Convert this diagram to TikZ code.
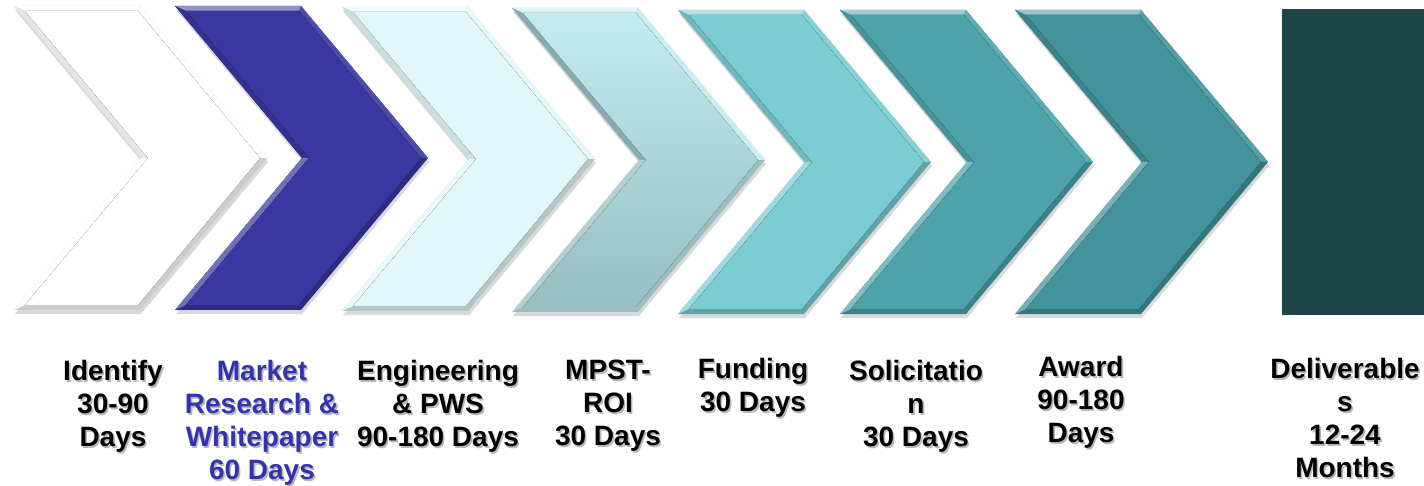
\documentclass[tikz,border=0pt]{standalone}
\usepackage{fontspec}
\setmainfont{Liberation Sans}
\definecolor{stepA}{HTML}{FFFFFF}
\definecolor{stepB}{HTML}{3838A0}
\definecolor{stepC}{HTML}{E2F7F9}
\definecolor{stepDtop}{HTML}{C2ECF0}
\definecolor{stepDbot}{HTML}{96BEC2}
\definecolor{stepE}{HTML}{7ACBD2}
\definecolor{stepF}{HTML}{4EA3AB}
\definecolor{stepG}{HTML}{42939B}
\definecolor{stepH}{HTML}{1D4447}
\definecolor{mrblue}{HTML}{3333B0}
\tikzset{
  lbl/.style={font=\bfseries\fontsize{14}{16.5}\selectfont, align=center, anchor=north, inner sep=0pt},
  lblshadow/.style={lbl, text=black!28},
}

\begin{document}
\begin{tikzpicture}[x=0.5pt, y=-0.5pt]
\useasboundingbox (0,0) rectangle (1424,486);
% chevrons: name / left x / top y / top colour / bottom colour
\foreach \n/\x/\t/\ct/\cb in {idf/14/6/stepA/stepA, mkt/175/6/stepB/stepB, eng/342/7/stepC/stepC,
    roi/512/8/stepDtop/stepDbot, fund/678/10/stepE/stepE, sol/840/10/stepF/stepF, awd/1015/10/stepG/stepG}{
  \fill[black, opacity=.15] (\x+1,\t+4) -- ++(126,0) -- ++(127,152) -- ++(-127,152) -- ++(-126,0) -- ++(127,-152) -- cycle;
  \fill[\ct!80!black] (\x,\t) -- ++(126,0) -- ++(127,152) -- ++(-127,152) -- ++(-126,0) -- ++(127,-152) -- cycle;
  \fill[\ct!55!white] (\x,\t) -- (\x+126,\t) -- (\x+124,\t+5) -- (\x+11,\t+5) -- cycle;
  \fill[\ct!90!white] (\x+126,\t) -- (\x+253,\t+152) -- (\x+246,\t+152) -- (\x+124,\t+5) -- cycle;
  \fill[\cb!90!black] (\x,\t) -- (\x+127,\t+152) -- (\x+134,\t+152) -- (\x+11,\t+5) -- cycle;
  \fill[\cb!72!white] (\x,\t+304) -- (\x+127,\t+152) -- (\x+134,\t+152) -- (\x+11,\t+299) -- cycle;
  \fill[top color=\ct, bottom color=\cb] (\x+11,\t+5) -- (\x+124,\t+5) -- (\x+246,\t+152) -- (\x+124,\t+299)
    -- (\x+11,\t+299) -- (\x+134,\t+152) -- cycle;
}
\fill[stepH] (1282,9) rectangle (1424,315);
% labels
\foreach \n/\x/\y/\c/\txt in {idf/113/360/black/{Identify\\30-90\\Days},
    mkt/262/360/mrblue/{Market\\Research \&\\Whitepaper\\60 Days},
    eng/438/360/black/{Engineering\\\& PWS\\90-180 Days},
    roi/608/360/black/{MPST-\\ROI\\30 Days},
    fund/753/358/black/{Funding\\30 Days},
    sol/916/360/black/{Solicitatio\\n\\30 Days},
    awd/1081/356/black/{Award\\90-180\\Days},
    dlv/1345/358/black/{Deliverable\\s\\12-24\\Months}}{
  \node[lblshadow] at (\x+1.6,\y+1.6) {\txt};
  \node[lbl, text=\c] (\n-lbl) at (\x,\y) {\txt};
}
\end{tikzpicture}
\end{document}
